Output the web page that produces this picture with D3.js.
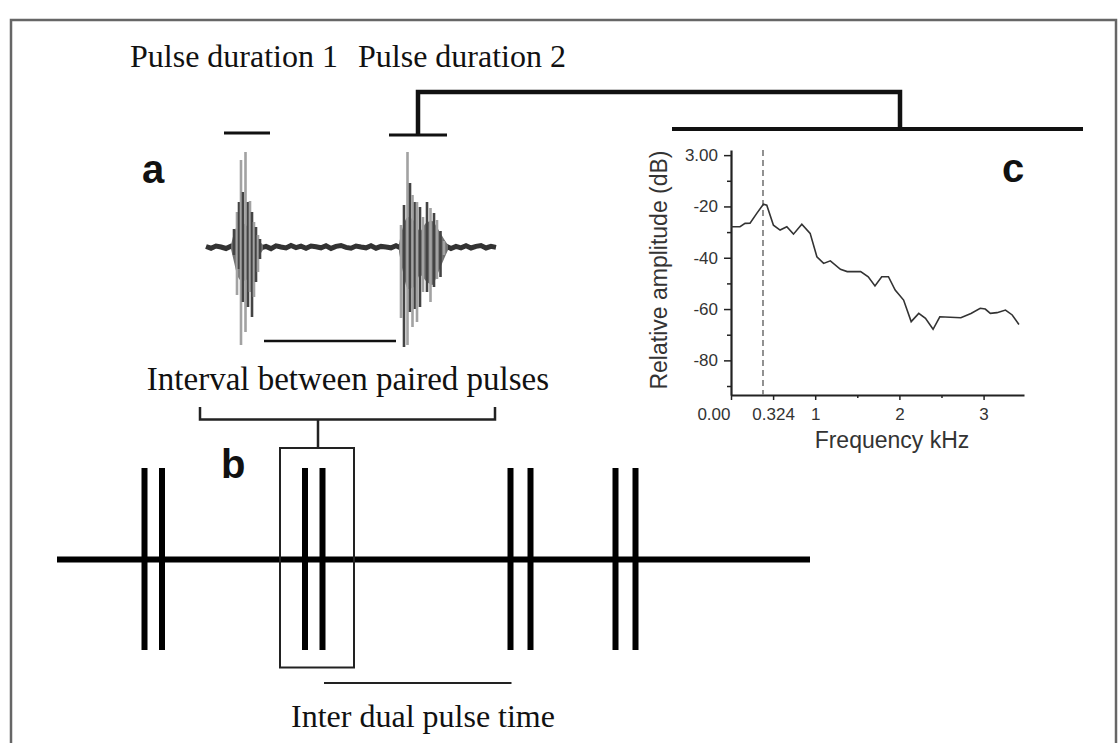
<!DOCTYPE html>
<html>
<head>
<meta charset="utf-8">
<script src="https://cdn.jsdelivr.net/npm/d3@7"></script>
<style>
  body { margin: 0; background: #fff; }
  svg { display: block; }
</style>
</head>
<body>
<svg width="1119" height="743"></svg>
<script>
// ---- panel c : spectrum ----
const freqKHz = [0, 0.107, 0.167, 0.226, 0.306, 0.385, 0.425, 0.504, 0.583, 0.663, 0.742, 0.841, 0.94,
  1.02, 1.1, 1.18, 1.30, 1.38, 1.54, 1.63, 1.71, 1.79, 1.87, 1.95, 2.05, 2.14, 2.23, 2.31, 2.40, 2.48,
  2.73, 2.85, 2.96, 3.02, 3.08, 3.16, 3.26, 3.34, 3.42];
const ampDb = [-27.9, -27.9, -26.6, -26.5, -22.7, -19.1, -19.5, -27.3, -29.2, -27.9, -30.8, -26.9, -30.5,
  -39.6, -42.2, -41.2, -44.5, -45.4, -45.4, -47.4, -51.0, -47.4, -47.4, -52.6, -56.5, -64.9, -61.7, -63.6, -67.9, -63.0,
  -63.4, -61.7, -59.7, -60.0, -61.7, -61.4, -60.4, -62.3, -66.0];
const peakFreq = 0.38;
const yTicks = [0, -20, -40, -60, -80];
const yTickLabels = ["3.00", "-20", "-40", "-60", "-80"];
const yMinorTicks = [-10, -30, -50, -70, -90];
const xTicks = [0, 0.5, 1, 2, 3];
const xTickLabels = ["0.00", "0.324", "1", "2", "3"];
const xMinorTicks = [1.5, 2.5];

// ---- panel a : waveform (time in ms, amplitude normalised) ----
const noiseAmp = [0.005, -0.012, 0.01, 0.0, -0.015, 0.008, -0.006, 0.014, 0.004, -0.012, 0.01, -0.008, 0.006,
  -0.016, 0.012, 0.0, -0.01, 0.015, -0.006, 0.008, -0.012, 0.01, 0.002, -0.008, 0.012, -0.014, 0.006, 0.015,
  -0.004, -0.012, 0.01, 0.0, -0.008, 0.012, -0.012, 0.006, 0.0, -0.008, 0.012, -0.01, 0.006, -0.006, 0.01,
  0.004, -0.012, 0.012, -0.006, 0.0, 0.01, -0.015, 0.006, -0.008, 0.012, -0.01, 0.006, 0.014, -0.01, 0.006, -0.004];
const spikeT  = [28, 31, 33, 35, 37, 39.5, 42, 44, 46, 48, 50, 52, 54,
  195, 198, 201.5, 204, 206.5, 209, 211, 214, 217, 221, 224.5, 228, 231, 234.5, 238];
const spikeHi = [0.18, 0.35, 0.45, 0.87, 0.55, 0.95, 0.45, 0.46, 0.35, 0.25, 0.2, 0.12, 0.08,
  0.22, 0.42, 0.95, 0.64, 0.52, 0.45, 0.45, 0.4, 0.3, 0.45, 0.39, 0.34, 0.27, 0.16, 0.06];
const spikeLo = [-0.08, -0.48, -0.22, -0.98, -0.55, -0.85, -0.6, -0.45, -0.7, -0.5, -0.35, -0.25, -0.12,
  -0.71, -1.0, -0.98, -0.65, -0.8, -0.62, -0.75, -0.6, -0.45, -0.45, -0.55, -0.4, -0.32, -0.3, -0.08];
const envT   = [[25, 28, 32, 36, 42, 48, 52, 57], [193, 197, 202, 208, 214, 220, 226, 232, 238, 242]];
const envTop = [[0.02, 0.14, 0.22, 0.24, 0.2, 0.14, 0.08, 0.02], [0.03, 0.2, 0.3, 0.26, 0.16, 0.24, 0.26, 0.18, 0.08, 0.02]];
const envBot = [[-0.02, -0.15, -0.3, -0.34, -0.32, -0.24, -0.12, -0.03], [-0.05, -0.25, -0.42, -0.4, -0.28, -0.34, -0.38, -0.26, -0.12, -0.03]];
const durationSpans = [[18, 64], [183, 241]];
const intervalSpan = [58, 190];

// ---- panel b : pulse train (ms) ----
const pulseTimes = [87.5, 105, 248, 265.5, 453.5, 473.5, 558.5, 578.5];
const trainLength = 753;

const svg = d3.select("svg");
const serif = "'Liberation Serif', 'Times New Roman', serif";
const sans = "'Liberation Sans', Arial, sans-serif";

// frame
svg.append("rect")
  .attr("x", 11).attr("y", 20).attr("width", 1105).attr("height", 800)
  .attr("fill", "none").attr("stroke", "#666").attr("stroke-width", 2.5);

// top labels
svg.append("text").attr("x", 130).attr("y", 67)
  .style("font-family", serif).style("font-size", "32px").attr("fill", "#111")
  .text("Pulse duration 1");
svg.append("text").attr("x", 358).attr("y", 67)
  .style("font-family", serif).style("font-size", "32px").attr("fill", "#111")
  .text("Pulse duration 2");

// panel letters
[["a", 142, 183], ["c", 1002, 182], ["b", 221, 478]].forEach(l => {
  svg.append("text").attr("x", l[1]).attr("y", l[2])
    .style("font-family", sans).style("font-weight", "bold").style("font-size", "40px")
    .attr("fill", "#111").text(l[0]);
});

// ---------- waveform ----------
const waveX = d3.scaleLinear().domain([0, 290]).range([206, 496]);
const waveY = d3.scaleLinear().domain([-1, 1]).range([347, 147]);

svg.append("path")
  .attr("d", d3.line().x((d, i) => waveX(i * 5)).y(d => waveY(d))(noiseAmp))
  .attr("fill", "none").attr("stroke", "#333").attr("stroke-width", 5);

envT.forEach((ts, k) => {
  const pts = ts.map((t, i) => [t, envTop[k][i], envBot[k][i]]);
  svg.append("path")
    .attr("d", d3.area().x(d => waveX(d[0])).y0(d => waveY(d[2])).y1(d => waveY(d[1])).curve(d3.curveMonotoneX)(pts))
    .attr("fill", "#727272");
});

svg.selectAll("rect.spike")
  .data(spikeT)
  .join("rect")
  .attr("class", "spike")
  .attr("x", d => waveX(d) - 1.3)
  .attr("width", 2.6)
  .attr("y", (d, i) => waveY(spikeHi[i]))
  .attr("height", (d, i) => waveY(spikeLo[i]) - waveY(spikeHi[i]))
  .attr("fill", (d, i) => i % 2 ? "#a2a2a2" : "#444");

// pulse duration bars
svg.selectAll("line.dur")
  .data(durationSpans)
  .join("line")
  .attr("class", "dur")
  .attr("x1", d => waveX(d[0])).attr("x2", d => waveX(d[1]))
  .attr("y1", (d, i) => i ? 135 : 133).attr("y2", (d, i) => i ? 135 : 133)
  .attr("stroke", "#111").attr("stroke-width", 3);

// bracket linking pulse 2 to the spectrum
const bx = waveX(d3.mean(durationSpans[1]));
svg.append("path")
  .attr("d", `M${bx},135 V92 H900 V129`)
  .attr("fill", "none").attr("stroke", "#111").attr("stroke-width", 4.5);
svg.append("line")
  .attr("x1", 672).attr("x2", 1083).attr("y1", 129).attr("y2", 129)
  .attr("stroke", "#111").attr("stroke-width", 4);

// interval line
svg.append("line")
  .attr("x1", waveX(intervalSpan[0])).attr("x2", waveX(intervalSpan[1]))
  .attr("y1", 341).attr("y2", 341)
  .attr("stroke", "#111").attr("stroke-width", 2.5);

svg.append("text").attr("x", 348).attr("y", 390).attr("text-anchor", "middle")
  .style("font-family", serif).style("font-size", "33px").attr("fill", "#111")
  .text("Interval between paired pulses");

// bracket below
svg.append("path")
  .attr("d", "M200,407 V419.5 H495 V407 M318,419.5 V448")
  .attr("fill", "none").attr("stroke", "#222").attr("stroke-width", 2.5);

// ---------- pulse train ----------
const trainX = d3.scaleLinear().domain([0, trainLength]).range([57, 810]);

svg.append("line")
  .attr("x1", trainX(0)).attr("x2", trainX(trainLength))
  .attr("y1", 559.5).attr("y2", 559.5)
  .attr("stroke", "#000").attr("stroke-width", 6);

svg.selectAll("line.pulse")
  .data(pulseTimes)
  .join("line")
  .attr("class", "pulse")
  .attr("x1", d => trainX(d)).attr("x2", d => trainX(d))
  .attr("y1", 468).attr("y2", 650)
  .attr("stroke", "#000").attr("stroke-width", 6);

// box around second pair
svg.append("rect")
  .attr("x", trainX(pulseTimes[2]) - 25).attr("y", 448)
  .attr("width", trainX(pulseTimes[3]) + 31.5 - (trainX(pulseTimes[2]) - 25))
  .attr("height", 219.5)
  .attr("fill", "none").attr("stroke", "#222").attr("stroke-width", 2);

// inter dual pulse time
svg.append("line")
  .attr("x1", trainX(pulseTimes[3]) + 1.5).attr("x2", trainX(pulseTimes[4]) + 1)
  .attr("y1", 683).attr("y2", 683)
  .attr("stroke", "#222").attr("stroke-width", 2);

svg.append("text").attr("x", 423).attr("y", 727).attr("text-anchor", "middle")
  .style("font-family", serif).style("font-size", "32px").attr("fill", "#111")
  .text("Inter dual pulse time");

// ---------- spectrum ----------
const fx = d3.scaleLinear().domain([0, 3.48]).range([731, 1024]);
const fy = d3.scaleLinear().domain([2, -93.5]).range([150, 395]);

const g = svg.append("g");

const yAxis = d3.axisLeft(fy).tickValues(yTicks)
  .tickFormat((d, i) => yTickLabels[i]).tickSize(7).tickSizeOuter(0).tickPadding(6);
const yMinor = d3.axisLeft(fy).tickValues(yMinorTicks).tickFormat("").tickSize(4).tickSizeOuter(0);
const xAxis = d3.axisBottom(fx).tickValues(xTicks)
  .tickFormat((d, i) => xTickLabels[i]).tickSize(5).tickSizeOuter(0).tickPadding(8);
const xMinor = d3.axisBottom(fx).tickValues(xMinorTicks).tickFormat("").tickSize(3).tickSizeOuter(0);

g.append("g").attr("transform", "translate(731,0)").call(yMinor).select(".domain").remove();
g.append("g").attr("transform", "translate(0,395)").call(xMinor).select(".domain").remove();
g.append("g").attr("id", "yAxisG").attr("transform", "translate(731,0)").call(yAxis);
g.append("g").attr("id", "xAxisG").attr("transform", "translate(0,395)").call(xAxis);

g.selectAll(".tick line").attr("stroke", "#222").attr("stroke-width", 1.5);
g.selectAll(".domain").attr("stroke", "#222").attr("stroke-width", 2.2);
g.selectAll(".tick text")
  .style("font-family", sans).style("font-size", "17px").attr("fill", "#333");
g.select("#xAxisG .tick text").attr("text-anchor", "end").attr("dx", -1);

// peak marker
g.append("line")
  .attr("x1", fx(peakFreq)).attr("x2", fx(peakFreq))
  .attr("y1", 150).attr("y2", 395)
  .attr("stroke", "#777").attr("stroke-width", 1.6).attr("stroke-dasharray", "6,4");

// spectrum line
g.append("path")
  .attr("d", d3.line().x((d, i) => fx(freqKHz[i])).y(d => fy(d))(ampDb))
  .attr("fill", "none").attr("stroke", "#333").attr("stroke-width", 1.6);

g.append("text")
  .attr("transform", "translate(667,270) rotate(-90)")
  .attr("text-anchor", "middle")
  .style("font-family", sans).style("font-size", "23px").attr("fill", "#333")
  .text("Relative amplitude (dB)");

g.append("text")
  .attr("x", 892).attr("y", 448).attr("text-anchor", "middle")
  .style("font-family", sans).style("font-size", "23px").attr("fill", "#333")
  .text("Frequency kHz");
</script>
</body>
</html>
